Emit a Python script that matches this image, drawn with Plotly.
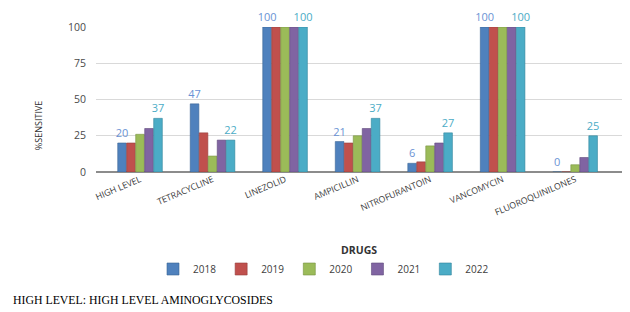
import plotly.graph_objects as go

categories = ["HIGH LEVEL", "TETRACYCLINE", "LINEZOLID", "AMPICILLIN",
              "NITROFURANTOIN", "VANCOMYCIN", "FLUOROQUINILONES"]
years = ["2018", "2019", "2020", "2021", "2022"]
v2018 = [20, 47, 100, 21, 6, 100, 0]
v2019 = [20, 27, 100, 20, 7, 100, 0]
v2020 = [26, 11, 100, 25, 18, 100, 5]
v2021 = [30, 22, 100, 30, 20, 100, 10]
v2022 = [37, 22, 100, 37, 27, 100, 25]
series = [v2018, v2019, v2020, v2021, v2022]
colors = ["#4F81BD", "#C0504D", "#9BBB59", "#8064A2", "#4BACC6"]
edge = ["#3A6496", "#963C3A", "#77923F", "#5F4A7C", "#31859C"]
label_colors = {"2018": "#6A93D4", "2022": "#4BACC6"}

fig = go.Figure()
for yr, vals, c, e in zip(years, series, colors, edge):
    kw = {}
    if yr in label_colors:
        kw = dict(text=[str(v) for v in vals], textposition="outside",
                  textfont=dict(color=label_colors[yr], size=11, family="Open Sans"),
                  cliponaxis=False, constraintext="none")
    fig.add_trace(go.Bar(x=categories, y=vals, name=yr,
                         marker=dict(color=c, line=dict(color=e, width=0.6)),
                         **kw))

# page body has an 8px margin; work in reference pixel coords minus 8
OFF = 8
W, H = 630 - OFF, 312 - OFF
L = 96 - OFF
T = 26.5 - OFF
R = W - (623 - OFF)
B = H - (172 - OFF)

fig.update_layout(
    width=W, height=H,
    barmode="group", bargap=0.38, bargroupgap=0.04,
    plot_bgcolor="white", paper_bgcolor="white",
    margin=dict(l=L, r=R, t=T, b=B, autoexpand=False),
    font=dict(family="Open Sans", color="#404040"),
    showlegend=True,
    legend=dict(orientation="h", xref="container", yref="container",
                x=(168 - OFF - 15) / W, xanchor="left",
                y=(H - (269 - OFF)) / H, yanchor="middle",
                font=dict(size=10, color="#404040"), itemwidth=30,
                tracegroupgap=0, bgcolor="rgba(0,0,0,0)"),
    xaxis=dict(tickangle=-23, tickfont=dict(size=8.8, color="#404040"),
               range=[-0.607, 6.66], showgrid=False, ticks="", showline=False,
               automargin=False),
    yaxis=dict(range=[0, 100], tickvals=[0, 25, 50, 75, 100],
               tickfont=dict(size=10.5, color="#4a4a4a"),
               gridcolor="#D9D9D9", gridwidth=1, zeroline=True,
               zerolinecolor="#8C8C8C", zerolinewidth=1.5,
               ticklabelstandoff=9, showline=False, automargin=False),
)

pw = W - L - R
ph = H - T - B


def px_ann(text, x, y, **kw):
    # x, y in reference-window pixels
    x -= OFF
    y -= OFF
    return dict(text=text, xref="paper", yref="paper",
                x=(x - L) / pw, y=(H - B - y) / ph, showarrow=False,
                yanchor="middle", **kw)


fig.update_layout(annotations=[
    px_ann("%SENSITIVE", 38, 126, textangle=-90, xanchor="center",
           font=dict(size=9, color="#333333")),
    px_ann("<b>DRUGS</b>", 359, 250, xanchor="center",
           font=dict(size=10.5, color="#333333")),
    px_ann("HIGH LEVEL: HIGH LEVEL AMINOGLYCOSIDES", 11, 300, xanchor="left",
           font=dict(size=11.8, color="#000000", family="Liberation Serif")),
])

fig.write_html("out.html")
